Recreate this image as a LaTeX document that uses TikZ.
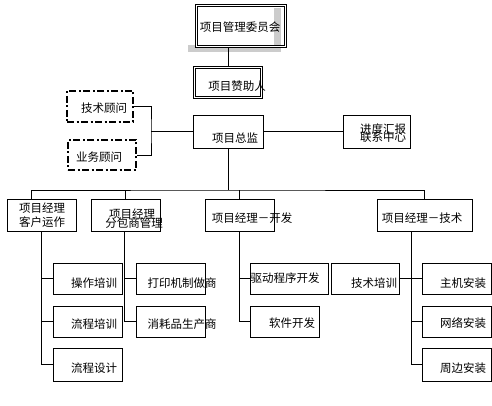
\documentclass[tikz,border=0pt]{standalone}
\usepackage{fontspec}
\setmainfont{Noto Sans CJK SC}
\begin{document}
\begin{tikzpicture}[x=1pt, y=-1pt, line width=0.6pt,
  box/.style={draw, inner sep=0pt, minimum width=69pt, minimum height=31pt},
  dbox/.style={box, double, double distance=1.4pt},
  advbox/.style={box, line width=1.5pt, dash pattern=on 7pt off 2.5pt on 2pt off 2.5pt},
  txt/.style={inner sep=0pt, font=\fontsize{11.5}{11.5}\selectfont}]
  \useasboundingbox (0,0) rectangle (492,406);
  % shadow of the committee box
  \fill[black!20] (188,45) rectangle (281,52);
  \fill[black!20] (274,8) rectangle (281,45);
  \node[dbox, minimum width=89pt, minimum height=41pt] (committee) at (241,26) {};
  \node[txt] at (240,27) {项目管理委员会};
  \node[dbox, minimum width=67pt, minimum height=30pt] (sponsor) at (228,82.5) {};
  \node[txt] at (237,86) {项目赞助人};
  \node[box, minimum width=70pt, minimum height=33pt] (director) at (228,131.5) {};
  \node[txt] at (235,138) {项目总监};
  \node[box, minimum width=67pt, minimum height=33pt] (report) at (376.5,131.5) {};
  \node[txt] at (383,129) {进度汇报};
  \node[txt] at (383,137) {联系中心};
  \node[advbox, minimum width=66pt, minimum height=31pt] (techadv) at (100,106.5) {};
  \node[txt] at (104,108) {技术顾问};
  \node[advbox, minimum width=68pt, minimum height=30pt] (bizadv) at (102,155) {};
  \node[txt] at (99,157) {业务顾问};
  % project managers
  \node[box, minimum height=32pt] (pmops) at (41.5,215) {};
  \node[txt] at (42,208) {项目经理};
  \node[txt] at (42,222) {客户运作};
  \node[box, minimum height=32pt] (pmsub) at (125.5,215) {};
  \node[txt] at (132,214) {项目经理};
  \node[txt] at (134,223) {分包商管理};
  \node[box, minimum height=32pt] (pmdev) at (239.5,215) {};
  \node[txt] at (252,218) {项目经理－开发};
  \node[box, minimum width=95pt, minimum height=32pt] (pmtech) at (424.5,215) {};
  \node[txt] at (422,218) {项目经理－技术};
  % work packages
  \node[box] (optrain) at (87.5,278.5) {};
  \node[txt] at (94,283) {操作培训};
  \node[box] (flowtrain) at (87.5,321.5) {};
  \node[txt] at (94,324) {流程培训};
  \node[box, minimum height=33pt] (flowdesign) at (87.5,364.5) {};
  \node[txt] at (94,368) {流程设计};
  \node[box] (printer) at (170.5,278.5) {};
  \node[txt] at (182,283) {打印机制做商};
  \node[box] (supplies) at (170.5,321.5) {};
  \node[txt] at (182,324) {消耗品生产商};
  \node[box, minimum width=78pt] (driver) at (289,278.5) {};
  \node[txt] at (285,278) {驱动程序开发};
  \node[box] (software) at (284.5,321.5) {};
  \node[txt] at (292,323) {软件开发};
  \node[box, minimum width=68pt] (techtrain) at (365,278.5) {};
  \node[txt] at (374,283) {技术培训};
  \node[box] (hostinst) at (456.5,278.5) {};
  \node[txt] at (463,283) {主机安装};
  \node[box] (netinst) at (456.5,321.5) {};
  \node[txt] at (463,323) {网络安装};
  \node[box, minimum height=33pt] (periinst) at (456.5,364.5) {};
  \node[txt] at (463,368) {周边安装};
  % connectors
  \coordinate (brk) at (151,131.5);
  \coordinate (bus) at (228,190);
  \coordinate (spine4) at (411,231);
  \draw (sponsor.north) -- (sponsor.north |- committee.south);
  \draw (techadv.east) -| (brk) |- (bizadv.east);
  \draw (brk) -- (director.west);
  \draw (director.east) -- (report.west);
  \draw (director.south) -- (bus);
  \draw ([xshift=-10.5pt]pmops.north) |- (bus) -| (pmtech.north);
  \draw (pmsub.north) -- (pmsub.north |- bus);
  \draw (pmdev.north) -- (pmdev.north |- bus);
  \draw (pmops.south) |- (flowdesign.west);
  \draw (pmops.south |- optrain.west) -- (optrain.west);
  \draw (pmops.south |- flowtrain.west) -- (flowtrain.west);
  \draw ([xshift=-1.5pt]pmsub.south) |- (supplies.west);
  \draw ([xshift=-1.5pt]pmsub.south |- printer.west) -- (printer.west);
  \draw (pmdev.south) |- (software.west);
  \draw (pmdev.south |- driver.west) -- (driver.west);
  \draw (spine4) |- (periinst.west);
  \draw (spine4 |- netinst.west) -- (netinst.west);
  \draw (techtrain.east) -- (hostinst.west);
\end{tikzpicture}
\end{document}
